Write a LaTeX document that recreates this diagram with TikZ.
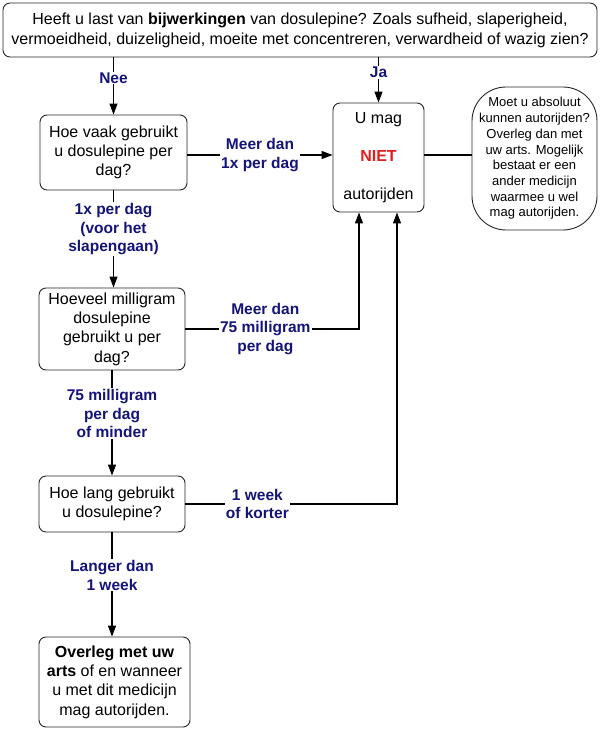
\documentclass[tikz,border=0pt]{standalone}
\usepackage{fontspec}
\setmainfont{Liberation Sans}
\usetikzlibrary{arrows.meta}
\definecolor{lbl}{RGB}{20,20,120}
\definecolor{nietred}{RGB}{228,30,30}
\begin{document}
\begin{tikzpicture}[x=1pt,y=-1pt,
  box/.style={draw=black!85, line width=0.9pt, rounded corners=7pt, align=center, inner sep=0pt,
    font=\fontsize{16}{19.3}\selectfont},
  lab/.style={fill=white, text=lbl, font=\bfseries\fontsize{15.5}{18.7}\selectfont, align=center, inner sep=1pt},
  arr/.style={line width=1.1pt, -{Triangle[length=11pt,width=8pt]}},
  ln/.style={line width=1.1pt}]
\useasboundingbox (0,0) rectangle (602,730);
\node[box, minimum width=594pt, minimum height=54pt, font=\fontsize{16}{20}\selectfont] (q) at (300,30)
  {Heeft u last van \textbf{bijwerkingen} van dosulepine? Zoals sufheid, slaperigheid,\\vermoeidheid, duizeligheid, moeite met concentreren, verwardheid of wazig zien?};
\node[box, minimum width=147pt, minimum height=75pt] (b1) at (113.5,152.5)
  {Hoe vaak gebruikt\\u dosulepine per\\dag?};
\node[box, minimum width=91pt, minimum height=109pt] (niet) at (378.5,157.5)
  {U mag\\[18.5pt]\textcolor{nietred}{\textbf{NIET}}\\[18.5pt]autorijden};
\node[box, minimum width=125pt, minimum height=143pt, rounded corners=34pt, font=\fontsize{13}{15.7}\selectfont] (ell) at (534.5,158.5)
  {Moet u absoluut\\kunnen autorijden?\\Overleg dan met\\uw arts. Mogelijk\\bestaat er een\\ander medicijn\\waarmee u wel\\mag autorijden.};
\node[box, minimum width=146pt, minimum height=82pt] (b2) at (112,329)
  {Hoeveel milligram\\dosulepine\\gebruikt u per\\dag?};
\node[box, minimum width=146pt, minimum height=56pt] (b3) at (112,504)
  {Hoe lang gebruikt\\u dosulepine?};
\node[box, minimum width=151pt, minimum height=90pt] (b4) at (114.5,682)
  {\textbf{Overleg met uw}\\\textbf{arts} of en wanneer\\u met dit medicijn\\mag autorijden.};
\draw[arr] (q.south -| b1.north) -- node[lab, pos=0.36]{Nee} (b1.north);
\draw[arr] (q.south -| niet.north) -- node[lab, pos=0.33]{Ja} (niet.north);
\draw[arr] (b1.east |- 0,155) -- node[lab]{Meer dan\\1x per dag} (niet.west |- 0,155);
\draw[ln] (niet.east |- 0,155) -- (ell.west |- 0,155);
\draw[arr] (b1.south) -- node[lab, pos=0.40]{1x per dag\\(voor het\\slapengaan)} (b2.north -| b1.south);
\draw[arr] (b2.south) -- node[lab, pos=0.41]{75 milligram\\per dag\\of minder} (b3.north);
\draw[arr] (b3.south) -- node[lab, pos=0.41]{Langer dan\\1 week} (b3.south |- b4.north);
\draw[arr] (b2.east) -| node[lab, pos=0.23]{Meer dan\\75 milligram\\per dag} ([xshift=-19.5pt]niet.south);
\draw[arr] (b3.east) -| node[lab, pos=0.17]{1 week\\of korter} ([xshift=18.5pt]niet.south);
\end{tikzpicture}
\end{document}
